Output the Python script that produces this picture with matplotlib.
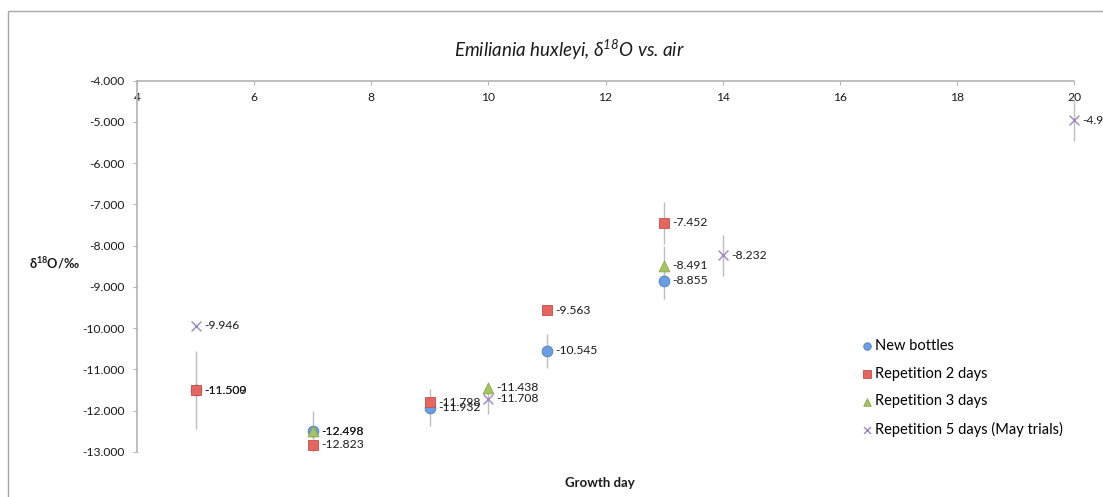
import matplotlib
matplotlib.use("Agg")
import matplotlib.pyplot as plt
from matplotlib.patches import Rectangle

plt.rcParams['font.family'] = ['Lato', 'DejaVu Sans']

# growth days and delta-18O values per series
days_new = [5, 7, 9, 11, 13]
d18o_new = [-11.500, -12.498, -11.932, -10.545, -8.855]
err_new = [0.95, 0.50, 0.45, 0.41, 0.45]

days_rep2 = [5, 7, 9, 11, 13]
d18o_rep2 = [-11.509, -12.823, -11.798, -9.563, -7.452]
err_rep2 = [0, 0, 0, 0, 0.50]

days_rep3 = [7, 10, 13]
d18o_rep3 = [-12.498, -11.438, -8.491]
err_rep3 = [0, 0, 0.48]

days_rep5 = [5, 10, 14, 20]
d18o_rep5 = [-9.946, -11.708, -8.232, -4.962]
err_rep5 = [0, 0.38, 0.50, 0.50]

series = [
    ("New bottles", days_new, d18o_new, err_new, 'o', '#6a9ee0', '#4a7ebb'),
    ("Repetition 2 days", days_rep2, d18o_rep2, err_rep2, 's', '#e8655f', '#c0504d'),
    ("Repetition 3 days", days_rep3, d18o_rep3, err_rep3, '^', '#a5c45f', '#8aa64a'),
    ("Repetition 5 days (May trials)", days_rep5, d18o_rep5, err_rep5, 'x', '#9c88c2', '#9c88c2'),
]

fig = plt.figure(figsize=(11.03, 4.97), dpi=100)
ax = fig.add_axes([137 / 1103, 1 - 452 / 497, (1074 - 137) / 1103, (452 - 80.5) / 497])

axis_grey = '#b3b3b3'
handles = []
for name, x, y, e, mk, fc, ec in series:
    ax.errorbar(x, y, yerr=e, fmt='none', ecolor='#bdbdbd', elinewidth=1, capsize=0, zorder=2, clip_on=False)
    if mk == 'x':
        h = ax.scatter(x, y, marker='x', s=50, color=fc, linewidths=1.0, zorder=3, label=name, clip_on=False)
    else:
        h = ax.scatter(x, y, marker=mk, s=60, facecolor=fc, edgecolor=ec, linewidths=0.6, zorder=3,
                       label=name, clip_on=False)
    handles.append(h)
    for xi, yi in zip(x, y):
        ax.annotate(f"{yi:.3f}", (xi, yi), xytext=(6, 0), textcoords='offset points',
                    va='center', ha='left', fontsize=8.7, color='#1a1a1a', annotation_clip=False)

ax.set_xlim(4, 20)
ax.set_ylim(-13, -4)
ax.set_xticks(range(4, 21, 2))
ax.set_yticks(range(-13, -3))
ax.yaxis.set_major_formatter(matplotlib.ticker.FuncFormatter(lambda v, p: f"{v:.3f}"))

for s in ['bottom', 'right']:
    ax.spines[s].set_visible(False)
for s in ['top', 'left']:
    ax.spines[s].set_color(axis_grey)
    ax.spines[s].set_linewidth(1.2)

ax.xaxis.set_ticks_position('top')
ax.tick_params(axis='x', direction='in', length=3, color=axis_grey, pad=-16,
               labelsize=8.7, labelcolor='#1a1a1a')
ax.tick_params(axis='y', direction='out', length=3, color=axis_grey, pad=6,
               labelsize=8.7, labelcolor='#1a1a1a')

ax.legend(handles=handles, loc='upper left', bbox_to_anchor=(852 / 1103, 1 - 332 / 497),
          bbox_transform=fig.transFigure, frameon=False, fontsize=10.5, handletextpad=0.05,
          handlelength=1.0, labelspacing=0.93, borderpad=0, markerscale=0.7)

fig.text(569 / 1103, 1 - 50 / 497, r"Emiliania huxleyi, δ$\mathregular{^{18}}$O vs. air",
         ha='center', va='center', fontsize=13.5, style='italic', color='#1a1a1a')
fig.text(29 / 1103, 1 - 263 / 497, r"δ$\mathregular{^{18}}$O/‰", ha='left', va='center',
         fontsize=9.2, fontweight='bold', color='#1a1a1a')
fig.text(600 / 1103, 1 - 483 / 497, "Growth day", ha='center', va='center',
         fontsize=9.5, fontweight='bold', color='#1a1a1a')

# chart-area border
fig.patches.append(Rectangle((8 / 1103, -0.05), 1.2, 1.05 - 11 / 497, transform=fig.transFigure,
                             fill=False, edgecolor='#a6a6a6', linewidth=1.0))

fig.savefig("out.png", dpi=100)
